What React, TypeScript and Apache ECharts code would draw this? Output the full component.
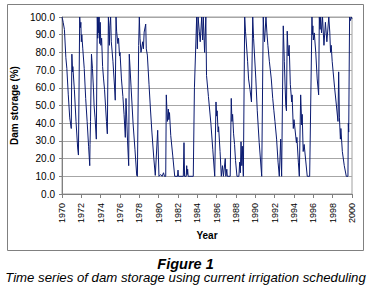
import React, { useEffect, useRef } from "react";
import * as echarts from "echarts";

// Time (decimal years) and dam storage (%)
const years1970s = [
  1970.0, 1970.05, 1970.12, 1970.25, 1970.4, 1970.5, 1970.65, 1970.8, 1970.96, 1971.02,
  1971.1, 1971.12, 1971.28, 1971.45, 1971.62, 1971.7, 1971.83, 1971.9, 1971.95, 1972.0,
  1972.05, 1972.15, 1972.3, 1972.45, 1972.6, 1972.75, 1972.87, 1972.9, 1972.95, 1973.05,
  1973.15, 1973.25, 1973.32, 1973.42, 1973.55, 1973.65, 1973.7, 1973.74, 1973.8, 1973.84,
  1973.9, 1973.95, 1974.02, 1974.1, 1974.2, 1974.3, 1974.4, 1974.5, 1974.6, 1974.69,
  1974.8, 1974.85, 1974.9, 1974.95, 1975.03, 1975.1, 1975.27, 1975.43, 1975.51, 1975.59,
  1975.65, 1975.78, 1975.85, 1975.95, 1976.0, 1976.15, 1976.3, 1976.42, 1976.55, 1976.62,
  1976.78, 1976.9, 1976.96, 1977.15, 1977.35, 1977.55, 1977.73, 1977.8, 1977.93, 1978.0,
  1978.07, 1978.17, 1978.35, 1978.42, 1978.5, 1978.66, 1978.72, 1978.83, 1979.0, 1979.15,
  1979.3, 1979.5, 1979.65, 1979.9,
];
const storage1970s = [
  100, 99, 97, 93, 77, 71, 56, 43, 37, 79,
  69, 72, 59, 41, 26, 22, 100, 94, 97, 86,
  90, 82, 71, 54, 41, 27, 16, 28, 41, 79,
  71, 60, 50, 43, 31, 100, 88, 100, 91, 100,
  85, 97, 84, 88, 72, 65, 59, 50, 41, 34,
  100, 92, 84, 95, 100, 86, 75, 61, 53, 100,
  92, 85, 88, 78, 80, 65, 55, 45, 32, 54,
  30, 16, 79, 60, 40, 25, 10.5, 10, 84, 100,
  88, 80, 86, 82, 91.5, 96, 82, 78.5, 62, 48,
  35, 20, 10.5, 36,
];

const years1980s = [
  1980.03, 1980.2, 1980.35, 1980.5, 1980.6, 1980.73, 1980.79, 1980.9, 1981.0, 1981.05,
  1981.12, 1981.25, 1981.45, 1981.66, 1981.95, 1982.0, 1982.05, 1982.55, 1982.62, 1982.68,
  1982.85, 1982.9, 1982.95, 1983.0, 1983.05, 1983.58, 1983.7, 1983.93, 1984.0, 1984.08,
  1984.2, 1984.3, 1984.45, 1984.55, 1984.62, 1984.75, 1984.88, 1984.95, 1985.15, 1985.4,
  1985.6, 1985.8, 1985.93, 1986.0, 1986.05, 1986.15, 1986.2, 1986.35, 1986.48, 1986.6,
  1986.7, 1986.89, 1986.95, 1987.05, 1987.1, 1987.4, 1987.51, 1987.58, 1987.65, 1987.75,
  1987.85, 1987.95, 1988.1, 1988.3, 1988.38, 1988.45, 1988.52, 1988.6, 1988.65, 1988.76,
  1988.9, 1988.98, 1989.05, 1989.2, 1989.3, 1989.45, 1989.6, 1989.73, 1989.82,
];
const storage1980s = [
  10, 11, 10, 12, 10, 10, 56, 41, 48, 42,
  46, 33, 22, 10, 10, 13.5, 10, 10, 29, 10,
  10, 16, 11, 14, 10, 10, 60, 100, 82, 100,
  92, 86, 100, 87, 100, 80, 100, 67, 55, 40,
  25, 10, 52, 44, 47, 35, 38, 24, 10, 16,
  10, 20, 10, 14, 10, 10, 54, 41, 45, 34,
  28, 19, 10, 10, 18, 12, 29.5, 16, 27, 10,
  100, 92, 87, 75, 65, 59, 52, 100, 88,
];

const years1990s = [
  1990.05, 1990.2, 1990.4, 1990.66, 1990.82, 1990.88, 1990.95, 1991.1, 1991.2, 1991.3,
  1991.45, 1991.55, 1991.65, 1991.8, 1991.92, 1992.03, 1992.2, 1992.35, 1992.48, 1992.62,
  1992.72, 1992.89, 1993.0, 1993.08, 1993.15, 1993.22, 1993.3, 1993.4, 1993.5, 1993.62,
  1993.76, 1993.8, 1993.93, 1994.0, 1994.25, 1994.3, 1994.45, 1994.55, 1994.69, 1994.8,
  1994.85, 1994.95, 1995.05, 1995.37, 1995.62, 1995.86, 1995.9, 1995.95, 1996.0, 1996.1,
  1996.25, 1996.4, 1996.55, 1996.62, 1996.7, 1996.76, 1996.85, 1996.95, 1997.1, 1997.25,
  1997.4, 1997.6, 1997.7, 1997.78, 1997.85, 1997.95, 1998.05, 1998.2, 1998.35, 1998.55,
  1998.62, 1998.7, 1998.8, 1998.85, 1999.0, 1999.2, 1999.41, 1999.58, 1999.62, 1999.66,
  1999.75, 1999.85, 1999.92, 2000.0,
];
const storage1990s = [
  65, 47, 29, 10, 100, 91, 86, 100, 91, 84,
  75, 70, 65, 54, 47, 41, 31, 18, 10, 31,
  10, 95, 75, 61, 50, 47, 92, 78, 84, 62,
  52, 56, 37, 42, 29, 32, 18, 10, 56, 39,
  45, 24, 28, 10, 10, 100, 90, 95, 87, 91,
  80, 65, 56, 100, 93, 100, 91, 100, 84, 97,
  86, 100, 91.5, 80, 84, 75, 69, 60, 52, 41,
  69, 43, 31, 37, 24, 16, 10, 10, 40, 35,
  100, 98, 100, 99,
];

const xAxisTitle = "Year";
const yAxisTitle = "Dam storage (%)";
const figureTitle = "Figure 1";
const figureCaption = "Time series of dam storage using current irrigation scheduling";

const FONT = "'Liberation Sans', Arial, sans-serif";

function zip(xs: number[], ys: number[]): [number, number][] {
  return xs.map((x, i) => [x, ys[i]]);
}

export default function App() {
  const ref = useRef<HTMLDivElement>(null);

  useEffect(() => {
    if (!ref.current) return;
    const chart = echarts.init(ref.current, undefined, { renderer: "svg" });
    const data = [
      ...zip(years1970s, storage1970s),
      ...zip(years1980s, storage1980s),
      ...zip(years1990s, storage1990s),
    ];
    chart.setOption({
      animation: false,
      backgroundColor: "#ffffff",
      textStyle: { fontFamily: FONT },
      grid: {
        left: 62,
        top: 17,
        right: 19,
        bottom: 97,
        show: true,
        borderColor: "#a0a0a0",
        borderWidth: 1,
        backgroundColor: "#ffffff",
      },
      xAxis: {
        type: "value",
        min: 1970,
        max: 2000,
        interval: 2,
        name: xAxisTitle,
        nameLocation: "middle",
        nameGap: 33,
        nameTextStyle: { fontFamily: FONT, fontSize: 10, fontWeight: "bold", color: "#000" },
        axisLine: { show: true, lineStyle: { color: "#808080", width: 1 } },
        axisTick: { show: true, length: 4, lineStyle: { color: "#808080" } },
        axisLabel: {
          rotate: 90,
          margin: 9,
          fontSize: 9,
          fontFamily: FONT,
          color: "#000",
          formatter: (v: number) => String(v),
        },
        splitLine: { show: false },
      },
      yAxis: {
        type: "value",
        min: 0,
        max: 100,
        interval: 10,
        name: yAxisTitle,
        nameLocation: "middle",
        nameGap: 39,
        nameTextStyle: { fontFamily: FONT, fontSize: 10, fontWeight: "bold", color: "#000" },
        axisLine: { show: true, lineStyle: { color: "#808080", width: 1 } },
        axisTick: { show: true, length: 3, lineStyle: { color: "#808080" } },
        axisLabel: {
          margin: 7,
          fontSize: 10,
          fontFamily: FONT,
          color: "#000",
          formatter: (v: number) => v.toFixed(1),
        },
        splitLine: { show: true, lineStyle: { color: "#a6a6a6", width: 1 } },
      },
      series: [
        {
          type: "line",
          data,
          showSymbol: false,
          symbol: "none",
          lineStyle: { color: "#0a1a70", width: 1 },
          itemStyle: { color: "#0a1a70" },
        },
      ],
      graphic: [
        {
          type: "rect",
          shape: { x: 7.5, y: 4.5, width: 356, height: 246 },
          style: { fill: "none", stroke: "#808080", lineWidth: 1 },
          silent: true,
        },
        {
          type: "text",
          x: 185.5,
          y: 256,
          style: {
            text: figureTitle,
            fontFamily: FONT,
            fontSize: 14.5,
            fontWeight: "bold",
            fontStyle: "italic",
            fill: "#000",
            align: "center",
          },
        },
        {
          type: "text",
          x: 185.5,
          y: 271,
          style: {
            text: figureCaption,
            fontFamily: FONT,
            fontSize: 13.2,
            fontStyle: "italic",
            fill: "#000",
            align: "center",
          },
        },
      ],
    });
    return () => chart.dispose();
  }, []);

  return (
    <div
      ref={ref}
      style={{ position: "fixed", left: 0, top: 0, width: 371, height: 291, background: "#fff" }}
    />
  );
}
